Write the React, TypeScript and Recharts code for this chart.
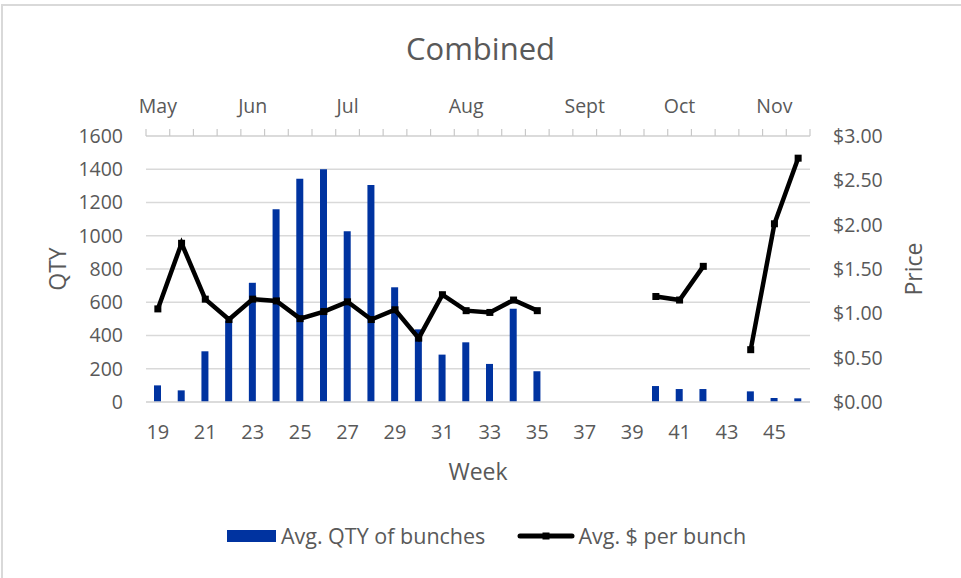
import React from 'react';
import { ComposedChart, Bar, Line, XAxis, YAxis, CartesianGrid, Legend, Label } from 'recharts';

// week numbers on the category axis
const weeks = [19, 20, 21, 22, 23, 24, 25, 26, 27, 28, 29, 30, 31, 32, 33, 34, 35, 36, 37, 38, 39, 40, 41, 42, 43, 44, 45, 46];
// Avg. QTY of bunches
const qty = [100, 70, 305, 490, 717, 1160, 1343, 1400, 1027, 1305, 690, 437, 285, 359, 229, 561, 185, null, null, null, null, 96, 78, 78, null, 64, 24, 22];
// Avg. $ per bunch
const price = [1.05, 1.79, 1.16, 0.93, 1.16, 1.14, 0.94, 1.02, 1.13, 0.93, 1.04, 0.72, 1.21, 1.03, 1.01, 1.15, 1.03, null, null, null, null, 1.19, 1.15, 1.53, null, 0.59, 2.01, 2.75];

const monthWeeks = [19, 23, 27, 32, 37, 41, 45];
const monthLabels = ['May', 'Jun', 'Jul', 'Aug', 'Sept', 'Oct', 'Nov'];

const qtyTicks = [0, 200, 400, 600, 800, 1000, 1200, 1400, 1600];
const priceTicks = [0, 0.5, 1, 1.5, 2, 2.5, 3];

const data = weeks.map((w, i) => ({ week: w, qty: qty[i], price: price[i] }));
const weekEdges = [...weeks.map((w) => w - 0.5), weeks[weeks.length - 1] + 0.5];

const FONT = "'Open Sans', sans-serif";
const TEXT = '#595959';
const GRID = '#d9d9d9';
const BLUE = '#0033a0';

const CHART_W = 961;
const MARGIN = { top: 90, right: 31, bottom: 96, left: 40 };
const LEFT_W = 106;
const RIGHT_W = 120;
const HALF_BAND = (CHART_W - MARGIN.left - MARGIN.right - LEFT_W - RIGHT_W) / weeks.length / 2;

const SquareDot = (props: any) => {
  const { cx, cy, value, index } = props;
  if (cx == null || cy == null || value == null) return <g key={`d${index}`} />;
  return <rect key={`d${index}`} x={cx - 3.5} y={cy - 3.5} width={7} height={7} fill="#000" />;
};

// top axis: small upward marks between weeks, month name over its first week
const MonthTick = (props: any) => {
  const { x, y, payload, index } = props;
  const i = monthWeeks.indexOf(payload.value + 0.5);
  return (
    <g key={`m${index}`}>
      <path d={`M${x},${y}V${y - 7}`} stroke="#c8c8c8" strokeWidth={1.2} fill="none" />
      {i >= 0 && (
        <text x={x + HALF_BAND} y={y - 23} textAnchor="middle" fill={TEXT} fontSize={19.5} fontFamily={FONT}>
          {monthLabels[i]}
        </text>
      )}
    </g>
  );
};

const qtyTitle = (props: any) => {
  const vb = props.viewBox;
  const x = vb.x + 17;
  const y = vb.y + vb.height / 2;
  return (
    <text x={x} y={y} transform={`rotate(-90 ${x} ${y})`} textAnchor="middle" dominantBaseline="central" fill={TEXT} fontSize={23} fontFamily={FONT}>
      QTY
    </text>
  );
};

const priceTitle = (props: any) => {
  const vb = props.viewBox;
  const x = vb.x + 103;
  const y = vb.y + vb.height / 2;
  return (
    <text x={x} y={y} transform={`rotate(-90 ${x} ${y})`} textAnchor="middle" dominantBaseline="central" fill={TEXT} fontSize={23} fontFamily={FONT}>
      Price
    </text>
  );
};

const weekTitle = (props: any) => {
  const vb = props.viewBox;
  return (
    <text x={vb.x + vb.width / 2} y={vb.y + 69} textAnchor="middle" dominantBaseline="central" fill={TEXT} fontSize={23} fontFamily={FONT}>
      Week
    </text>
  );
};

const renderLegend = () => (
  <div style={{ display: 'flex', justifyContent: 'center', alignItems: 'center', paddingLeft: 12, fontFamily: FONT, fontSize: 21.5, color: TEXT, lineHeight: '28px' }}>
    <span style={{ display: 'inline-block', width: 49, height: 12, background: BLUE, marginRight: 5 }} />
    <span>Avg. QTY of bunches</span>
    <svg width={58} height={12} style={{ marginLeft: 32, marginRight: 3 }}>
      <line x1={3} y1={6} x2={55} y2={6} stroke="#000" strokeWidth={5} strokeLinecap="round" />
      <rect x={25.5} y={2.5} width={7} height={7} fill="#000" />
    </svg>
    <span>Avg. $ per bunch</span>
  </div>
);

export default function App() {
  return (
    <div style={{ position: 'absolute', left: 0, top: 0, width: 961, height: 578, overflow: 'hidden', background: '#fff' }}>
      <div style={{ position: 'absolute', left: 1, top: 4, width: 1000, height: 1000, border: `2px solid ${GRID}` }} />
      <div style={{ position: 'absolute', left: 0, top: 33, width: 961, textAlign: 'center', fontFamily: FONT, fontSize: 31, lineHeight: '30px', color: TEXT }}>
        Combined
      </div>
      <div style={{ position: 'absolute', left: 0, top: 0 }}>
        <ComposedChart width={CHART_W} height={578} data={data} margin={MARGIN}>
          <CartesianGrid horizontal vertical={false} stroke={GRID} strokeWidth={1.5} xAxisId="bottom" yAxisId="left" />
          <XAxis
            xAxisId="months"
            orientation="top"
            type="number"
            dataKey="week"
            domain={[18.5, 46.5]}
            ticks={weekEdges}
            tick={MonthTick}
            height={46}
            tickSize={0}
            tickMargin={0}
            tickLine={false}
            axisLine={{ stroke: GRID, strokeWidth: 1.5 }}
            interval={0}
          />
          <XAxis
            xAxisId="bottom"
            dataKey="week"
            height={80}
            interval={1}
            tickSize={0}
            tickMargin={23}
            tickLine={false}
            axisLine={{ stroke: GRID, strokeWidth: 1.5 }}
            tick={{ fill: TEXT, fontSize: 20, fontFamily: FONT }}
          >
            <Label content={weekTitle} />
          </XAxis>
          <YAxis
            yAxisId="left"
            domain={[0, 1600]}
            ticks={qtyTicks}
            width={LEFT_W}
            tickSize={0}
            tickMargin={23}
            tickLine={false}
            axisLine={false}
            tick={{ fill: TEXT, fontSize: 19.5, fontFamily: FONT }}
          >
            <Label content={qtyTitle} />
          </YAxis>
          <YAxis
            yAxisId="right"
            orientation="right"
            domain={[0, 3]}
            ticks={priceTicks}
            tickFormatter={(v: number) => `$${v.toFixed(2)}`}
            width={RIGHT_W}
            tickSize={0}
            tickMargin={23}
            tickLine={false}
            axisLine={false}
            tick={{ fill: TEXT, fontSize: 19.5, fontFamily: FONT }}
          >
            <Label content={priceTitle} />
          </YAxis>
          <Bar xAxisId="bottom" yAxisId="left" dataKey="qty" name="Avg. QTY of bunches" fill={BLUE} barSize={7} isAnimationActive={false} />
          <Line
            xAxisId="bottom"
            yAxisId="right"
            dataKey="price"
            name="Avg. $ per bunch"
            stroke="#000"
            strokeWidth={4.5}
            dot={SquareDot}
            activeDot={false}
            connectNulls={false}
            isAnimationActive={false}
          />
          <Legend
            layout="horizontal"
            verticalAlign="middle"
            align="center"
            content={renderLegend}
            wrapperStyle={{ top: 522, left: 0, width: 961 }}
          />
        </ComposedChart>
      </div>
    </div>
  );
}
